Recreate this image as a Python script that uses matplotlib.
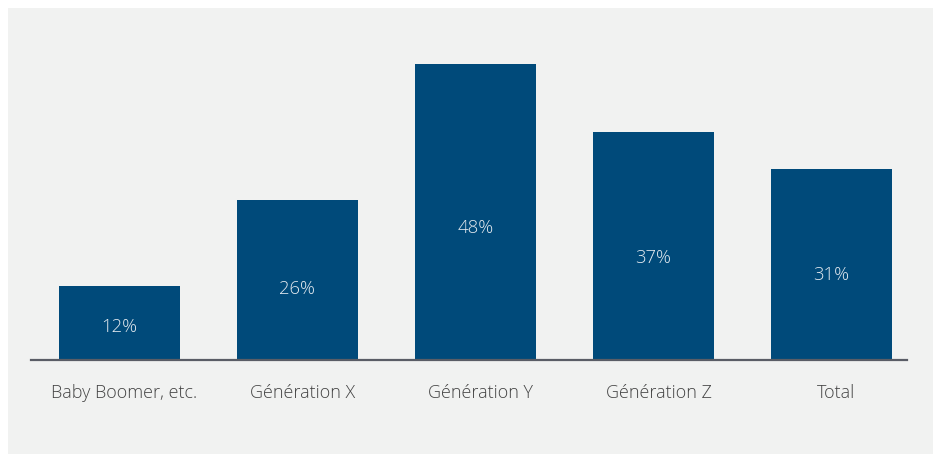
import matplotlib
matplotlib.use("Agg")
import matplotlib.pyplot as plt
import matplotlib.transforms as mtransforms
from matplotlib.patches import Rectangle

categories = ["Baby Boomer, etc.", "Génération X", "Génération Y", "Génération Z", "Total"]
values = [12, 26, 48, 37, 31]
value_labels = ["12%", "26%", "48%", "37%", "31%"]

BG = "#f1f2f1"
BAR = "#004a7a"
TEXT = "#444444"
INNER_TEXT = "#e3e9ef"
FONT = ["Open Sans", "DejaVu Sans"]

W, H = 936, 455
fig = plt.figure(figsize=(W / 100, H / 100), dpi=100, facecolor="white")

# light panel behind the chart
fig.patches.append(Rectangle((8 / W, 1 - 454 / H), (933 - 8) / W, (454 - 8) / H,
                             transform=fig.transFigure, facecolor=BG,
                             edgecolor="none", zorder=-10))

left, right = 31 / W, 907 / W
bottom = (H - 360) / H
top = (H - 51.7) / H
ax = fig.add_axes([left, bottom, right - left, top - bottom])
ax.set_zorder(5)
ax.set_facecolor("none")

x = list(range(len(categories)))
ax.bar(x, values, width=0.68, color=BAR, zorder=2)

for xi, v, lab in zip(x, values, value_labels):
    ax.text(xi, v * 0.445, lab, ha="center", va="center", color=INNER_TEXT,
            fontsize=13.3, family=FONT, fontweight="light", zorder=3)

ax.set_xlim(-0.497, 4.424)
ax.set_ylim(0, 50)
ax.set_yticks([])
ax.set_xticks(x)
ax.set_xticklabels(categories, family=FONT, fontsize=13, color=TEXT,
                   fontweight="light")
ax.tick_params(axis="x", length=0, pad=17)
shift = mtransforms.ScaledTranslation(5 / 100, 0, fig.dpi_scale_trans)
for t in ax.get_xticklabels():
    t.set_transform(t.get_transform() + shift)
for s in ["top", "right", "left"]:
    ax.spines[s].set_visible(False)
ax.spines["bottom"].set_color("#5a5d66")
ax.spines["bottom"].set_linewidth(1.6)
ax.spines["bottom"].set_zorder(4)

fig.savefig("out.png", dpi=100, facecolor="white")
